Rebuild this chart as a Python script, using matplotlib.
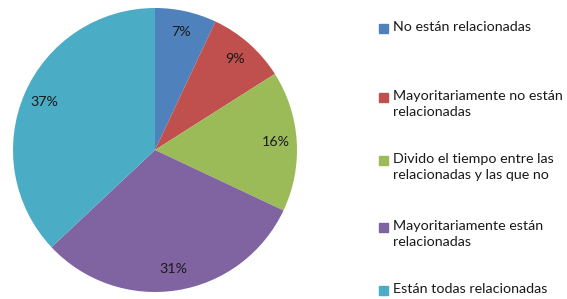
import matplotlib
matplotlib.use("Agg")
from matplotlib import pyplot as plt
from matplotlib.patches import Rectangle

labels = ["No están relacionadas",
          "Mayoritariamente no están\nrelacionadas",
          "Divido el tiempo entre las\nrelacionadas y las que no",
          "Mayoritariamente están\nrelacionadas",
          "Están todas relacionadas"]
values = [7, 9, 16, 31, 37]
colors = ["#4F81BD", "#C0504D", "#9BBB59", "#8064A2", "#4BACC6"]

plt.rcParams['font.family'] = ['Lato', 'DejaVu Sans']

W, H = 567, 299
fig = plt.figure(figsize=(W / 100, H / 100), dpi=100)

# pie centred at (155, 150) px, radius ~142 px
cx, cy, r = 155, 150, 142
ax = fig.add_axes([(cx - r) / W, (H - cy - r) / H, 2 * r / W, 2 * r / H])
ax.pie(values, colors=colors, startangle=90, counterclock=False,
       autopct='%d%%', pctdistance=0.85, radius=1,
       textprops={'fontsize': 10.3, 'color': '#1a1a1a'})
ax.set_xlim(-1, 1)
ax.set_ylim(-1, 1)
ax.set_aspect('equal')
ax.axis('off')

# legend drawn by hand so the marker sits on the first text line
legend_y = [28, 97, 160, 227, 290]
for lab, col, y in zip(labels, colors, legend_y):
    fig.add_artist(Rectangle((379 / W, (H - y - 4.5) / H), 9 / W, 9 / H,
                             transform=fig.transFigure, color=col))
    fig.text(393 / W, (H - y + 7) / H, lab, fontsize=10.3, va='top', ha='left',
             color='#1a1a1a', linespacing=1.4)

fig.savefig("out.png", dpi=100)
